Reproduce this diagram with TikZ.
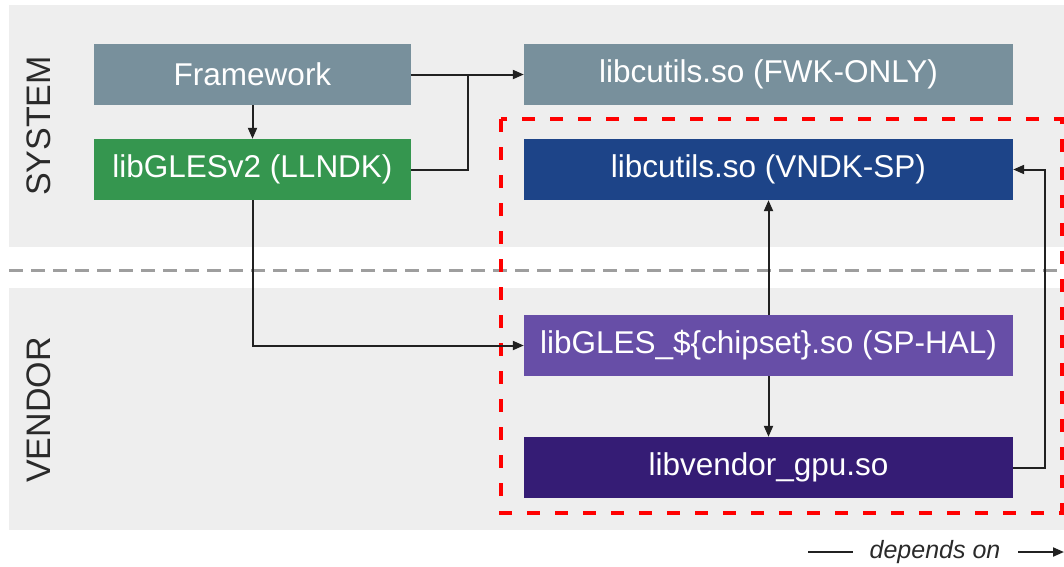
\documentclass[tikz,border=0pt]{standalone}
\usepackage{fontspec}
\setmainfont{Liberation Sans}
\usetikzlibrary{arrows.meta}
\definecolor{panel}{HTML}{EEEEEE}
\definecolor{fwgray}{HTML}{78909C}
\definecolor{llgreen}{HTML}{35964F}
\definecolor{vndkblue}{HTML}{1D4488}
\definecolor{halpurple}{HTML}{674EA7}
\definecolor{vendpurple}{HTML}{351C75}
\definecolor{linec}{HTML}{212121}
\definecolor{sepgray}{HTML}{9E9E9E}
\definecolor{labelc}{HTML}{2A2A2A}
\tikzset{
  libbox/.style={draw=none, inner sep=0pt, minimum height=61pt, text=white,
    font=\fontsize{31.5}{37}\selectfont},
  smallbox/.style={libbox, minimum width=317pt},
  widebox/.style={libbox, minimum width=489pt},
  conn/.style={line width=2pt, draw=linec},
  arr/.style={conn, -{Triangle[length=11pt,width=9pt]}},
  layerlabel/.style={rotate=90, text=labelc, font=\fontsize{34}{40}\selectfont, inner sep=0pt},
  spbox/.style={draw=red, line width=3.5pt, dash pattern=on 13pt off 15pt},
  sepline/.style={draw=sepgray, line width=3pt, dash pattern=on 14pt off 8pt},
}
\begin{document}
\begin{tikzpicture}[x=1pt, y=-1pt]
\useasboundingbox (0,0) rectangle (1064,566);
% panels
\fill[panel] (9,5) rectangle (1064,247);
\fill[panel] (9,288) rectangle (1064,530);
\draw[sepline] (9,270) -- (1062,270);
% layer labels
\node[layerlabel] (sys) at (39,126) {SYSTEM};
\node[layerlabel] (ven) at (39,410) {VENDOR};
% boxes
\node[smallbox, fill=fwgray] (fw) at (252.5,74.5) {Framework};
\node[smallbox, fill=llgreen] (gles) at (252.5,169.5) {libGLESv2 (LLNDK)};
\node[widebox, fill=fwgray] (fwk) at (768.5,74.5) {libcutils.so (FWK-ONLY)};
\node[widebox, fill=vndkblue] (vndk) at (768.5,169.5) {libcutils.so (VNDK-SP)};
\node[widebox, fill=halpurple] (sphal) at (768.5,345.5) {libGLES\_\$\{chipset\}.so (SP-HAL)};
\node[widebox, fill=vendpurple] (vgpu) at (768.5,467.5) {libvendor\_gpu.so};
% SP-HAL boundary
\draw[spbox] (501,119) rectangle (1062,513);
% connectors
\coordinate (j1) at (467.5,74.5);
\coordinate (j2) at (1045,467.5);
\draw[arr] (fw.south) -- (gles.north);
\draw[arr] (fw.east) -- (fwk.west);
\draw[conn] (gles.east) -| (j1);
\draw[arr] (gles.south) |- (sphal.west);
\draw[arr] (sphal.north) -- (vndk.south);
\draw[arr] (sphal.south) -- (vgpu.north);
\draw[arr] (vgpu.east) -- (j2) |- (vndk.east);
% legend
\coordinate (l1) at (808,552);
\coordinate (l2) at (853,552);
\coordinate (l3) at (1018,552);
\coordinate (l4) at (1064,552);
\node[text=labelc, font=\fontsize{25}{30}\selectfont\itshape, inner sep=0pt] (dep) at (935,552) {depends on};
\draw[conn] (l1) -- (l2);
\draw[arr] (l3) -- (l4);
\end{tikzpicture}
\end{document}
